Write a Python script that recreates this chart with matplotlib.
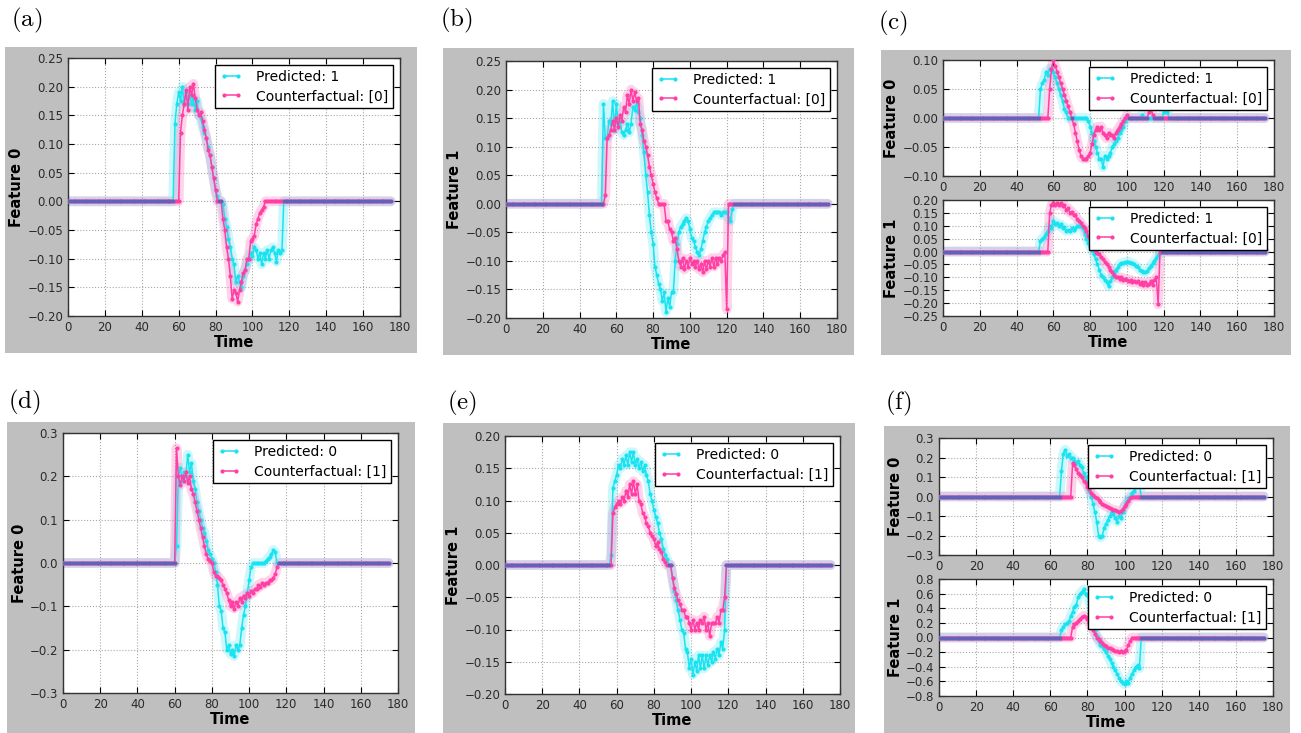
import numpy as np
import matplotlib
matplotlib.use("Agg")
import matplotlib.pyplot as plt
from matplotlib.patches import Rectangle
from matplotlib.ticker import FuncFormatter, MultipleLocator

plt.rcParams["mathtext.fontset"] = "cm"

N_STEPS = 176
CYAN = "#19e3f0"
PINK = "#ff3fa4"
PURPLE = "#6262b8"
GRAY = "#bfbfbf"

# ---- values: (first non-zero time step, values) ----
# (a) Feature 0, predicted 1 vs counterfactual [0]
A_PRED_START = 58
A_PRED = [0.135, 0.17, 0.19, 0.175, 0.2, 0.17, 0.19, 0.17, 0.185, 0.17,
          0.18, 0.16, 0.175, 0.15, 0.145, 0.13, 0.12, 0.11, 0.095, 0.08,
          0.06, 0.04, 0.02, 0.01, 0.0, 0.0, -0.005, -0.03, -0.045, -0.065,
          -0.08, -0.1, -0.11, -0.14, -0.13, -0.14, -0.15, -0.13, -0.12, -0.11,
          -0.1, -0.09, -0.095, -0.08, -0.085, -0.1, -0.09, -0.11, -0.09, -0.1,
          -0.085, -0.1, -0.085, -0.08, -0.09, -0.105, -0.085, -0.09, -0.085]
A_CF_START = 61
A_CF = [0.12, 0.15, 0.17, 0.195, 0.16, 0.2, 0.185, 0.205, 0.18, 0.16,
        0.15, 0.155, 0.14, 0.125, 0.11, 0.09, 0.08, 0.06, 0.04, 0.02,
        0.0, 0.0, 0.0, -0.03, -0.05, -0.08, -0.1, -0.13, -0.17, -0.155,
        -0.16, -0.175, -0.155, -0.14, -0.125, -0.12, -0.1, -0.1, -0.07, -0.065,
        -0.06, -0.04, -0.03, -0.02, -0.015, -0.01]

# (b) Feature 1, predicted 1 vs counterfactual [0]
B_PRED_START = 53
B_PRED = [0.175, 0.115, 0.115, 0.145, 0.14, 0.18, 0.13, 0.175, 0.14, 0.145,
          0.125, 0.12, 0.13, 0.14, 0.125, 0.14, 0.17, 0.165, 0.175, 0.16,
          0.15, 0.12, 0.09, 0.05, 0.02, -0.02, -0.05, -0.07, -0.11, -0.125,
          -0.14, -0.15, -0.17, -0.155, -0.19, -0.165, -0.18, -0.155, -0.155, -0.1,
          -0.07, -0.05, -0.04, -0.035, -0.03, -0.025, -0.03, -0.045, -0.06, -0.065,
          -0.075, -0.085, -0.09, -0.08, -0.065, -0.05, -0.04, -0.03, -0.025, -0.02,
          -0.015, -0.015, -0.015, -0.015, -0.02, -0.015, -0.015, -0.015, -0.025, -0.03,
          -0.01]
B_CF_START = 54
B_CF = [0.015, 0.115, 0.12, 0.13, 0.145, 0.13, 0.15, 0.135, 0.155, 0.145,
        0.17, 0.16, 0.19, 0.175, 0.2, 0.18, 0.195, 0.18, 0.185, 0.14,
        0.13, 0.11, 0.1, 0.085, 0.065, 0.05, 0.035, 0.02, 0.01, 0.0,
        0.0, 0.0, 0.0, -0.03, -0.03, -0.045, -0.05, -0.065, -0.06, -0.08,
        -0.1, -0.11, -0.095, -0.115, -0.1, -0.11, -0.095, -0.105, -0.1, -0.11,
        -0.1, -0.115, -0.105, -0.12, -0.1, -0.115, -0.1, -0.11, -0.095, -0.11,
        -0.095, -0.105, -0.095, -0.1, -0.09, -0.085, -0.185]

# (c) Feature 0 and Feature 1, predicted 1 vs counterfactual [0]
C0_PRED_START = 53
C0_PRED = [0.05, 0.06, 0.065, 0.08, 0.075, 0.085, 0.085, 0.08, 0.07, 0.06,
           0.05, 0.04, 0.03, 0.015, 0.01, 0.0, 0.0, 0.0, 0.0, 0.0,
           0.0, 0.0, 0.0, 0.0, 0.0, 0.0, -0.005, -0.015, -0.025, -0.04,
           -0.05, -0.06, -0.07, -0.07, -0.085, -0.065, -0.07, -0.065, -0.06, -0.05,
           -0.045, -0.04, -0.035, -0.025, -0.02, -0.015, -0.005, 0.0, 0.0, 0.0,
           0.0, 0.0, 0.0, 0.0, 0.0, 0.005, 0.0, 0.0, 0.0, 0.0,
           0.0, 0.0, 0.0, 0.0, 0.0, 0.0, 0.0, 0.01, 0.015, 0.01]
C0_CF_START = 58
C0_CF = [0.05, 0.085, 0.1, 0.09, 0.08, 0.07, 0.06, 0.05, 0.04, 0.03,
         0.02, 0.01, 0.0, -0.01, -0.025, -0.04, -0.055, -0.065, -0.07, -0.07,
         -0.07, -0.065, -0.06, -0.045, -0.03, -0.02, -0.015, -0.02, -0.015, -0.025,
         -0.03, -0.035, -0.025, -0.03, -0.03, -0.035, -0.025, -0.02, -0.015, -0.01,
         -0.005, 0.0, 0.005, 0.0, 0.0, 0.0, 0.0, 0.0, 0.0, 0.0,
         0.0, 0.0, 0.0, 0.0, 0.01, 0.02, 0.005]
C1_PRED_START = 53
C1_PRED = [0.04, 0.05, 0.055, 0.07, 0.08, 0.1, 0.09, 0.12, 0.105, 0.11,
           0.1, 0.105, 0.09, 0.095, 0.08, 0.085, 0.08, 0.09, 0.085, 0.09,
           0.1, 0.1, 0.1, 0.09, 0.07, 0.05, 0.035, 0.02, 0.005, -0.01,
           -0.03, -0.05, -0.07, -0.09, -0.1, -0.11, -0.12, -0.135, -0.115, -0.1,
           -0.08, -0.07, -0.06, -0.05, -0.045, -0.045, -0.04, -0.04, -0.04, -0.045,
           -0.045, -0.05, -0.055, -0.06, -0.07, -0.075, -0.08, -0.08, -0.075, -0.065,
           -0.055, -0.045, -0.035, -0.025, -0.015, -0.005]
C1_CF_START = 58
C1_CF = [0.15, 0.18, 0.19, 0.18, 0.19, 0.18, 0.19, 0.175, 0.18, 0.16,
         0.17, 0.15, 0.155, 0.14, 0.14, 0.125, 0.12, 0.11, 0.1, 0.09,
         0.08, 0.06, 0.05, 0.03, 0.01, 0.0, -0.005, -0.01, -0.02, -0.03,
         -0.04, -0.05, -0.06, -0.07, -0.08, -0.09, -0.1, -0.1, -0.105, -0.1,
         -0.11, -0.105, -0.11, -0.115, -0.11, -0.12, -0.115, -0.12, -0.115, -0.125,
         -0.12, -0.13, -0.12, -0.13, -0.125, -0.115, -0.13, -0.11, -0.1, -0.205]

# (d) Feature 0, predicted 0 vs counterfactual [1]
D_PRED_START = 61
D_PRED = [0.04, 0.2, 0.22, 0.19, 0.21, 0.2, 0.25, 0.21, 0.23, 0.19,
          0.17, 0.14, 0.12, 0.1, 0.08, 0.07, 0.05, 0.03, 0.02, 0.01,
          0.0, -0.02, -0.05, -0.1, -0.11, -0.15, -0.16, -0.2, -0.19, -0.21,
          -0.2, -0.215, -0.19, -0.2, -0.19, -0.15, -0.12, -0.1, -0.07, -0.04,
          -0.01, 0.0, 0.0, 0.0, 0.0, 0.0, 0.0, 0.0, 0.005, 0.01,
          0.015, 0.02, 0.03, 0.025]
D_CF_START = 61
D_CF = [0.265, 0.2, 0.18, 0.2, 0.19, 0.21, 0.185, 0.2, 0.17, 0.16,
        0.14, 0.12, 0.1, 0.08, 0.06, 0.04, 0.02, 0.01, 0.005, 0.0,
        -0.02, -0.03, -0.03, -0.035, -0.04, -0.05, -0.06, -0.07, -0.085, -0.1,
        -0.09, -0.105, -0.09, -0.1, -0.08, -0.09, -0.075, -0.08, -0.07, -0.075,
        -0.065, -0.07, -0.06, -0.06, -0.05, -0.055, -0.045, -0.05, -0.045, -0.045,
        -0.04, -0.04, -0.035, -0.025, -0.01]

# (e) Feature 1, predicted 0 vs counterfactual [1]
E_PRED_START = 57
E_PRED = [0.015, 0.12, 0.13, 0.14, 0.155, 0.15, 0.165, 0.155, 0.17, 0.155,
          0.175, 0.16, 0.175, 0.155, 0.165, 0.15, 0.16, 0.145, 0.155, 0.14,
          0.13, 0.11, 0.1, 0.085, 0.075, 0.065, 0.05, 0.04, 0.025, 0.015,
          0.01, 0.0, 0.0, -0.02, -0.04, -0.055, -0.07, -0.085, -0.1, -0.105,
          -0.13, -0.135, -0.16, -0.145, -0.17, -0.15, -0.165, -0.14, -0.16, -0.14,
          -0.16, -0.14, -0.155, -0.14, -0.15, -0.135, -0.145, -0.13, -0.14, -0.12,
          -0.13, -0.1]
E_CF_START = 58
E_CF = [0.08, 0.09, 0.095, 0.1, 0.095, 0.105, 0.1, 0.115, 0.105, 0.125,
        0.11, 0.13, 0.11, 0.125, 0.1, 0.095, 0.08, 0.075, 0.065, 0.06,
        0.05, 0.045, 0.04, 0.03, 0.035, 0.025, 0.02, 0.01, 0.005, 0.0,
        0.0, 0.0, -0.02, -0.035, -0.045, -0.055, -0.06, -0.07, -0.07, -0.08,
        -0.08, -0.09, -0.1, -0.085, -0.1, -0.09, -0.1, -0.085, -0.09, -0.08,
        -0.1, -0.09, -0.11, -0.09, -0.09, -0.09, -0.08, -0.09, -0.07, -0.07,
        -0.05]

# (f) Feature 0 and Feature 1, predicted 0 vs counterfactual [1]
F0_PRED_START = 66
F0_PRED = [0.13, 0.22, 0.24, 0.21, 0.22, 0.2, 0.2, 0.18, 0.17, 0.18,
           0.16, 0.15, 0.12, 0.1, 0.07, 0.03, 0.0, -0.04, -0.08, -0.13,
           -0.2, -0.21, -0.2, -0.16, -0.14, -0.12, -0.1, -0.08, -0.09, -0.11,
           -0.13, -0.1, -0.11, -0.08, -0.05, -0.03, -0.01, 0.0, 0.02, 0.03,
           0.05, 0.07, 0.06]
F0_CF_START = 72
F0_CF = [0.17, 0.16, 0.14, 0.12, 0.11, 0.1, 0.08, 0.07, 0.05, 0.04,
         0.02, 0.01, 0.0, -0.01, -0.02, -0.03, -0.04, -0.045, -0.05, -0.055,
         -0.06, -0.065, -0.07, -0.07, -0.075, -0.08, -0.075, -0.065, -0.05, -0.04,
         -0.025, -0.01]
F1_PRED_START = 66
F1_PRED = [0.1, 0.15, 0.18, 0.2, 0.22, 0.3, 0.35, 0.42, 0.45, 0.55,
           0.6, 0.62, 0.66, 0.6, 0.58, 0.5, 0.4, 0.25, 0.1, 0.02,
           -0.05, -0.1, -0.12, -0.16, -0.2, -0.25, -0.3, -0.35, -0.4, -0.45,
           -0.5, -0.55, -0.6, -0.62, -0.64, -0.6, -0.62, -0.55, -0.5, -0.45,
           -0.4, -0.38, -0.42]
F1_CF_START = 72
F1_CF = [0.15, 0.18, 0.2, 0.22, 0.25, 0.28, 0.3, 0.28, 0.25, 0.2,
         0.15, 0.1, 0.05, 0.0, -0.02, -0.05, -0.07, -0.1, -0.12, -0.14,
         -0.15, -0.16, -0.17, -0.18, -0.19, -0.2, -0.19, -0.2, -0.18, -0.17,
         -0.1, -0.05]

X_TICKS = [0, 20, 40, 60, 80, 100, 120, 140, 160, 180]


def series(start, values):
    y = np.zeros(N_STEPS)
    y[start:start + len(values)] = values
    return y


def px_rect(x, y, w, h):
    # pixel box (left, top, width, height) -> figure fraction
    return [x / 1301, 1 - (y + h) / 733, w / 1301, h / 733]


def minus_fmt(decimals):
    return FuncFormatter(lambda v, _: f"{v:.{decimals}f}".replace("-", "\u2212"))


def draw(ax, pred, cf, cls, ylim, ystep, decimals, ylabel, xlabel=True):
    t = np.arange(N_STEPS)
    ax.plot(t, pred, color=CYAN, lw=7, alpha=0.22, solid_capstyle="round", zorder=2)
    ax.plot(t, cf, color=PINK, lw=7, alpha=0.22, solid_capstyle="round", zorder=2)
    ax.plot(t, pred, color=CYAN, lw=1.1, marker=".", ms=4, zorder=3,
            label=f"Predicted: {cls}")
    ax.plot(t, cf, color=PINK, lw=1.1, marker=".", ms=4, zorder=4,
            label=f"Counterfactual: [{1 - cls}]")
    both_zero = np.where((pred == 0) & (cf == 0), 0.0, np.nan)
    ax.plot(t, both_zero, color=PURPLE, lw=1.3, marker=".", ms=3, zorder=5)

    ax.set_xlim(0, 180)
    ax.set_ylim(*ylim)
    ax.set_xticks(X_TICKS)
    ax.yaxis.set_major_locator(MultipleLocator(ystep))
    ax.yaxis.set_major_formatter(minus_fmt(decimals))
    ax.tick_params(direction="in", top=True, right=True, length=4,
                   labelsize=8.5, labelcolor="#2a2a2a", pad=3.5)
    ax.grid(True, ls=":", color="#a8a8a8", lw=0.8)
    for sp in ax.spines.values():
        sp.set_color("#333333")
        sp.set_linewidth(1.0)
    ax.set_ylabel(ylabel, fontsize=10.5, fontweight="bold", labelpad=2)
    if xlabel:
        ax.set_xlabel("Time", fontsize=10.5, fontweight="bold", labelpad=1)
    leg = ax.legend(loc="upper right", fontsize=10, numpoints=2, handlelength=1.6,
                    handletextpad=1.0, fancybox=False, framealpha=1,
                    edgecolor="black", borderaxespad=0.5, borderpad=0.35,
                    labelspacing=0.4)
    leg.get_frame().set_linewidth(1.0)
    leg.set_zorder(10)


fig = plt.figure(figsize=(13.01, 7.33), dpi=100)
fig.patch.set_facecolor("white")

# grey frames of the six sub-figures
for box in [(5, 47, 412, 306), (443, 48, 411, 307), (881, 50, 410, 305),
            (7, 422, 408, 311), (443, 423, 412, 310), (884, 426, 406, 307)]:
    r = px_rect(*box)
    fig.patches.append(Rectangle(r[:2], r[2], r[3], transform=fig.transFigure,
                                 facecolor=GRAY, edgecolor="none", zorder=-1))

ax_a = fig.add_axes(px_rect(68, 58, 332, 258))
draw(ax_a, series(A_PRED_START, A_PRED), series(A_CF_START, A_CF), 1,
     (-0.2, 0.25), 0.05, 2, "Feature 0")

ax_b = fig.add_axes(px_rect(506, 61, 331, 257))
draw(ax_b, series(B_PRED_START, B_PRED), series(B_CF_START, B_CF), 1,
     (-0.2, 0.25), 0.05, 2, "Feature 1")

ax_c0 = fig.add_axes(px_rect(943, 60, 331, 116))
draw(ax_c0, series(C0_PRED_START, C0_PRED), series(C0_CF_START, C0_CF), 1,
     (-0.1, 0.1), 0.05, 2, "Feature 0", xlabel=False)
ax_c1 = fig.add_axes(px_rect(943, 200, 331, 116))
draw(ax_c1, series(C1_PRED_START, C1_PRED), series(C1_CF_START, C1_CF), 1,
     (-0.25, 0.2), 0.05, 2, "Feature 1")

ax_d = fig.add_axes(px_rect(63, 433, 335, 260))
draw(ax_d, series(D_PRED_START, D_PRED), series(D_CF_START, D_CF), 0,
     (-0.3, 0.3), 0.1, 1, "Feature 0")

ax_e = fig.add_axes(px_rect(505, 436, 335, 258))
draw(ax_e, series(E_PRED_START, E_PRED), series(E_CF_START, E_CF), 0,
     (-0.2, 0.2), 0.05, 2, "Feature 1")

ax_f0 = fig.add_axes(px_rect(939, 438, 334, 117))
draw(ax_f0, series(F0_PRED_START, F0_PRED), series(F0_CF_START, F0_CF), 0,
     (-0.3, 0.3), 0.1, 1, "Feature 0", xlabel=False)
ax_f1 = fig.add_axes(px_rect(939, 579, 334, 117))
draw(ax_f1, series(F1_PRED_START, F1_PRED), series(F1_CF_START, F1_CF), 0,
     (-0.8, 0.8), 0.2, 1, "Feature 1")

for letter, x, y in [("a", 11, 20), ("b", 440, 20), ("c", 878, 23),
                     ("d", 8, 402), ("e", 447, 403), ("f", 885, 403)]:
    fig.text(x / 1301, 1 - y / 733, rf"$\mathrm{{({letter})}}$", fontsize=18,
             ha="left", va="center")

fig.savefig("out.png", dpi=100)
